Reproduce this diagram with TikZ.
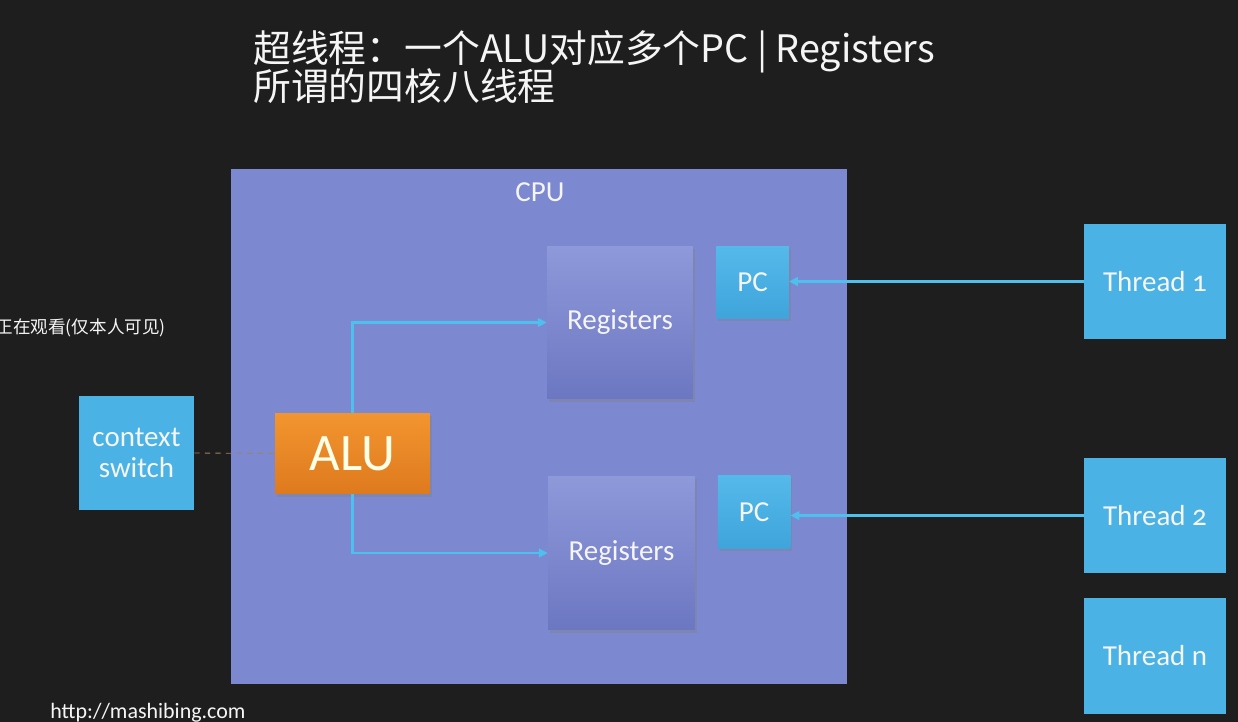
\documentclass[tikz,border=0pt]{standalone}
\usepackage{fontspec}
\setmainfont{Carlito}
\newfontfamily\cjk{Noto Sans CJK SC}
\newfontfamily\oldnum[Numbers=OldStyle]{Carlito}
\usetikzlibrary{shadows,arrows.meta}
\definecolor{bgc}{HTML}{1E1E1E}
\definecolor{cpuc}{HTML}{7C88CF}
\definecolor{regtop}{HTML}{8E99DA}
\definecolor{regbot}{HTML}{6C77C2}
\definecolor{bluebox}{HTML}{4AB2E5}
\definecolor{pctop}{HTML}{55B9EA}
\definecolor{pcbot}{HTML}{3EA4DB}
\definecolor{alutop}{HTML}{F2952F}
\definecolor{alubot}{HTML}{DE7A1E}
\definecolor{linkc}{HTML}{4EC0EE}
\definecolor{dashc}{HTML}{9A8464}
\definecolor{txt}{HTML}{F5F5F5}
\tikzset{
  boxbase/.style={draw=none, inner sep=0pt, text=txt, align=center},
  regbox/.style={boxbase, top color=regtop, bottom color=regbot,
    drop shadow={opacity=0.35, shadow xshift=1pt, shadow yshift=-1.5pt},
    font=\fontsize{16.5}{19}\selectfont},
  pcbox/.style={boxbase, top color=pctop, bottom color=pcbot,
    drop shadow={opacity=0.35, shadow xshift=1pt, shadow yshift=-1.5pt},
    minimum width=1.45cm, minimum height=1.45cm, font=\fontsize{16.5}{19}\selectfont},
  bluebx/.style={boxbase, fill=bluebox, font=\fontsize{16.5}{19}\selectfont},
  thbox/.style={bluebx, minimum width=2.84cm, minimum height=2.31cm},
  link/.style={draw=linkc, line width=1.2pt, -{Triangle[length=5pt,width=5pt]}},
  titlefont/.style={text=txt, inner sep=0pt, font=\cjk\fontsize{21.5}{24}\selectfont},
}
\begin{document}
\begin{tikzpicture}[x=0.02cm,y=-0.02cm]
\path[fill=bgc, use as bounding box] (0,0) rectangle (1238,722);
% title
\node[titlefont, anchor=base west] (title1) at (253,63) {超线程：一个ALU对应多个PC | Registers};
\node[titlefont, anchor=base west] (title2) at (253,101) {所谓的四核八线程};
% watching text (cut off at left edge)
\node[anchor=east, text=txt, inner sep=0pt, font=\cjk\fontsize{10}{12}\selectfont] (watch) at (166,328) {正在观看(仅本人可见)};
% CPU
\node[boxbase, fill=cpuc, minimum width=12.32cm, minimum height=10.30cm] (cpu) at (539,426.5) {};
\node[text=txt, inner sep=0pt, font=\fontsize{16.5}{19}\selectfont] (cpulabel) at (540,192) {CPU};
% registers
\node[regbox, minimum width=2.92cm, minimum height=3.06cm] (reg1) at (620,322.5) {Registers};
\node[regbox, minimum width=2.94cm, minimum height=3.08cm] (reg2) at (621.5,553) {Registers};
% PCs
\node[pcbox] (pc1) at (752.5,282.5) {PC};
\node[pcbox] (pc2) at (754,512) {PC};
% ALU
\node[boxbase, top color=alutop, bottom color=alubot, text=white!90!yellow,
  drop shadow={opacity=0.35, shadow xshift=1pt, shadow yshift=-1.5pt},
  minimum width=3.10cm, minimum height=1.62cm, font=\fontsize{30}{34}\selectfont] (alu) at (352.5,453.5) {ALU};
% context switch
\node[bluebx, minimum width=2.30cm, minimum height=2.28cm] (ctx) at (136.5,453) {context\\[-1pt]switch};
% threads
\node[thbox] (t1) at (1155,281.5) {Thread {\oldnum 1}};
\node[thbox] (t2) at (1155,515.5) {Thread {\oldnum 2}};
\node[thbox] (tn) at (1155,656) {Thread n};
% connectors
\draw[dashc, dashed, line width=0.5pt] (ctx.east) -- (alu.west);
\draw[link] (alu.north) |- (reg1.west);
\draw[link] (alu.south) |- (reg2.west);
\draw[link] (t1.west) -- (t1.west -| pc1.east);
\draw[link] (t2.west) -- (t2.west -| pc2.east);
% url
\node[anchor=base west, text=txt, inner sep=0pt, font=\fontsize{12.5}{15}\selectfont] (url) at (50,719) {http://mashibing.com};
\end{tikzpicture}
\end{document}
